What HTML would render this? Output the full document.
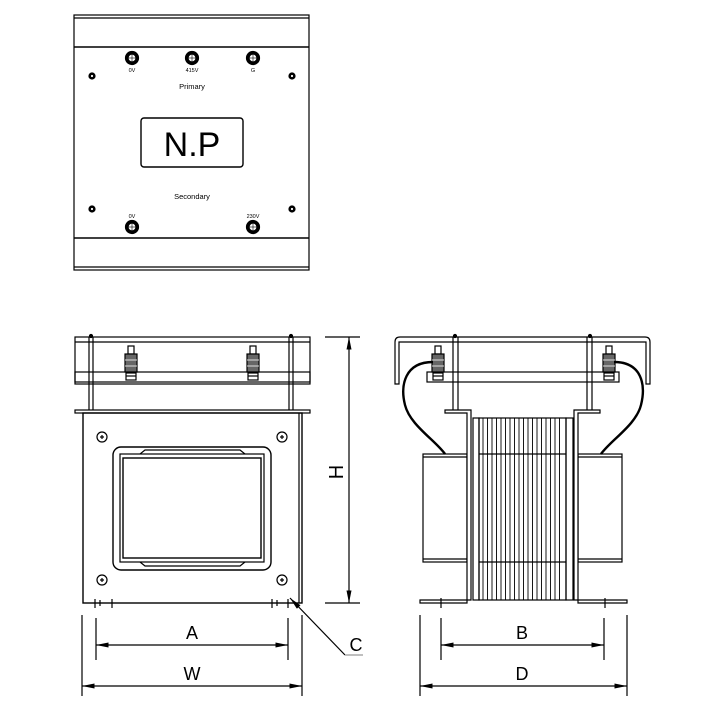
<!DOCTYPE html>
<html><head><meta charset="utf-8"><style>
html,body{margin:0;padding:0;background:#fff;}
svg{display:block;}
text{font-family:"Liberation Sans",Arial,sans-serif;fill:#000;}
</style></head><body>
<svg width="701" height="701" viewBox="0 0 701 701" xmlns="http://www.w3.org/2000/svg" fill="none" stroke="#000" stroke-width="1.2">
<defs>
<marker id="ar" viewBox="0 0 10 4" refX="10" refY="2" markerWidth="14" markerHeight="5" orient="auto-start-reverse" markerUnits="userSpaceOnUse">
<path d="M0,0 L10,2 L0,4 Z" fill="#000" stroke="none"/>
</marker>
<g id="term">
<circle r="6.5" fill="#000"/><circle r="3.8" fill="#fff" stroke="#000" stroke-width="0.8"/>
<line x1="-6" y1="0" x2="6" y2="0" stroke="#000" stroke-width="0.6"/><line x1="0" y1="-6" x2="0" y2="6" stroke="#000" stroke-width="0.6"/>
</g>
<g id="dot"><circle r="3" fill="#000"/><circle r="1.1" fill="#fff" stroke="none"/></g>
<g id="scr"><circle r="5"/><line x1="-2" y1="0" x2="2" y2="0"/><line x1="0" y1="-2" x2="0" y2="2"/></g>
<g id="bolt">
<rect x="-3" y="-17" width="6" height="8" fill="#fff"/>
<rect x="-6" y="-9" width="12" height="18" fill="#666"/>
<line x1="-6" y1="-3" x2="6" y2="-3" stroke="#fff" stroke-width="0.8"/>
<line x1="-6" y1="3" x2="6" y2="3" stroke="#fff" stroke-width="0.8"/>
<rect x="-5" y="10" width="10" height="7" fill="#fff"/>
<line x1="-5" y1="13" x2="5" y2="13"/>
</g>
</defs>

<!-- TOP VIEW -->
<rect x="74" y="15" width="235" height="255"/>
<line x1="74" y1="18" x2="309" y2="18"/>
<line x1="74" y1="47" x2="309" y2="47" stroke-width="1.4"/>
<line x1="74" y1="238" x2="309" y2="238" stroke-width="1.4"/>
<line x1="74" y1="267" x2="309" y2="267"/>
<use href="#term" x="132" y="58"/><use href="#term" x="192" y="58"/><use href="#term" x="253" y="58"/>
<text x="132" y="72" font-size="5.5" text-anchor="middle" stroke="none">0V</text>
<text x="192" y="72" font-size="5.5" text-anchor="middle" stroke="none">415V</text>
<text x="253" y="72" font-size="5.5" text-anchor="middle" stroke="none">G</text>
<use href="#dot" x="92" y="76"/><use href="#dot" x="292" y="76"/>
<use href="#dot" x="92" y="209"/><use href="#dot" x="292" y="209"/>
<text x="192" y="89" font-size="7.5" text-anchor="middle" stroke="none">Primary</text>
<rect x="141" y="118" width="102" height="49" rx="3" stroke-width="1.4"/>
<text x="192" y="156" font-size="34" text-anchor="middle" stroke="none">N.P</text>
<text x="192" y="199" font-size="7.5" text-anchor="middle" stroke="none">Secondary</text>
<text x="132" y="218" font-size="5.5" text-anchor="middle" stroke="none">0V</text>
<text x="253" y="218" font-size="5.5" text-anchor="middle" stroke="none">230V</text>
<use href="#term" x="132" y="227"/><use href="#term" x="253" y="227"/>

<!-- FRONT VIEW -->
<rect x="75" y="337" width="235" height="47"/>
<line x1="75" y1="342" x2="310" y2="342"/>
<rect x="75" y="372" width="235" height="10"/>
<line x1="89" y1="337" x2="89" y2="410"/><line x1="93" y1="337" x2="93" y2="410"/>
<line x1="289" y1="337" x2="289" y2="410"/><line x1="293" y1="337" x2="293" y2="410"/>
<circle cx="91" cy="336" r="1.5" fill="#000"/><circle cx="291" cy="336" r="1.5" fill="#000"/>
<rect x="75" y="410" width="235" height="3" fill="#fff"/>
<use href="#bolt" x="131" y="363"/><use href="#bolt" x="253" y="363"/>
<rect x="83" y="413" width="219" height="190" stroke-width="1.4"/>
<line x1="299" y1="413" x2="299" y2="603"/>
<rect x="113" y="447" width="158" height="123" rx="8" stroke-width="1.4"/>
<rect x="120" y="454" width="144" height="108"/>
<rect x="123" y="458" width="138" height="100" stroke-width="1.4"/>
<path d="M140,454 L145,450 L240,450 L245,454 M140,562 L145,566 L240,566 L245,562"/>
<use href="#scr" x="102" y="437"/><use href="#scr" x="282" y="437"/>
<use href="#scr" x="102" y="580"/><use href="#scr" x="282" y="580"/>
<path d="M95,599 V608 M100,600 V606 M112,599 V608 M272,599 V608 M277,600 V606 M288,599 V608"/>
<!-- H dimension -->
<line x1="325" y1="337" x2="360" y2="337"/>
<line x1="325" y1="603" x2="360" y2="603"/>
<line x1="349" y1="337" x2="349" y2="603" marker-start="url(#ar)" marker-end="url(#ar)"/>
<text x="0" y="0" font-size="20" text-anchor="middle" stroke="none" transform="translate(343,472) rotate(-90)">H</text>
<!-- C leader -->
<line x1="290" y1="598" x2="345" y2="655" marker-start="url(#ar)"/>
<line x1="345" y1="655" x2="363" y2="655" stroke="#999"/>
<text x="356" y="651" font-size="18" text-anchor="middle" stroke="none">C</text>
<!-- A / W -->
<line x1="96" y1="618" x2="96" y2="660"/><line x1="288" y1="618" x2="288" y2="660"/>
<line x1="82" y1="615" x2="82" y2="696"/><line x1="302" y1="615" x2="302" y2="696"/>
<line x1="96" y1="645" x2="288" y2="645" marker-start="url(#ar)" marker-end="url(#ar)"/>
<line x1="82" y1="686" x2="302" y2="686" marker-start="url(#ar)" marker-end="url(#ar)"/>
<text x="192" y="639" font-size="18" text-anchor="middle" stroke="none">A</text>
<text x="192" y="680" font-size="18" text-anchor="middle" stroke="none">W</text>

<!-- SIDE VIEW -->
<path d="M395,384 V342 Q395,337 400,337 H645 Q650,337 650,342 V384 H646 V342 H399 V384 Z"/>
<rect x="427" y="372" width="192" height="10"/>
<line x1="453" y1="337" x2="453" y2="410"/><line x1="458" y1="337" x2="458" y2="410"/>
<line x1="587" y1="337" x2="587" y2="410"/><line x1="592" y1="337" x2="592" y2="410"/>
<circle cx="455" cy="336" r="1.5" fill="#000"/><circle cx="590" cy="336" r="1.5" fill="#000"/>
<use href="#bolt" x="438" y="363"/><use href="#bolt" x="609" y="363"/>
<!-- wires -->
<path d="M433,362 C405,362 400,385 405,405 C410,425 435,440 445,454" stroke-width="2.4"/>
<path d="M614,362 C642,362 646,385 641,405 C636,425 611,440 601,454" stroke-width="2.4"/>
<!-- coils -->
<rect x="423" y="454" width="44" height="108"/>
<line x1="423" y1="457" x2="467" y2="457"/><line x1="423" y1="559" x2="467" y2="559"/>
<rect x="578" y="454" width="44" height="108"/>
<line x1="578" y1="457" x2="622" y2="457"/><line x1="578" y1="559" x2="622" y2="559"/>
<!-- brackets -->
<path d="M445,410 H471 V600 H420 V603 H467 V413 H445 Z" fill="#fff"/>
<path d="M600,410 H574 V600 H627 V603 H578 V413 H600 Z" fill="#fff"/>
<!-- core -->
<rect x="473" y="418" width="6" height="182"/>
<rect x="566" y="418" width="7" height="182"/>
<rect x="479" y="418" width="87" height="182"/>
<g stroke-width="0.9">
<path d="M483,418V600M487.5,418V600M492,418V600M496.5,418V600M501,418V600M505.5,418V600M510,418V600M514.5,418V600M519,418V600M523.5,418V600M528,418V600M532.5,418V600M537,418V600M541.5,418V600M546,418V600M550.5,418V600M555,418V600M559.5,418V600"/>
</g>
<line x1="479" y1="454" x2="566" y2="454"/><line x1="479" y1="562" x2="566" y2="562"/>
<path d="M441,598 V608 M605,598 V608"/>
<!-- B / D -->
<line x1="441" y1="618" x2="441" y2="660"/><line x1="604" y1="618" x2="604" y2="660"/>
<line x1="420" y1="615" x2="420" y2="696"/><line x1="627" y1="615" x2="627" y2="696"/>
<line x1="441" y1="645" x2="604" y2="645" marker-start="url(#ar)" marker-end="url(#ar)"/>
<line x1="420" y1="686" x2="627" y2="686" marker-start="url(#ar)" marker-end="url(#ar)"/>
<text x="522" y="639" font-size="18" text-anchor="middle" stroke="none">B</text>
<text x="522" y="680" font-size="18" text-anchor="middle" stroke="none">D</text>
</svg>
</body></html>
